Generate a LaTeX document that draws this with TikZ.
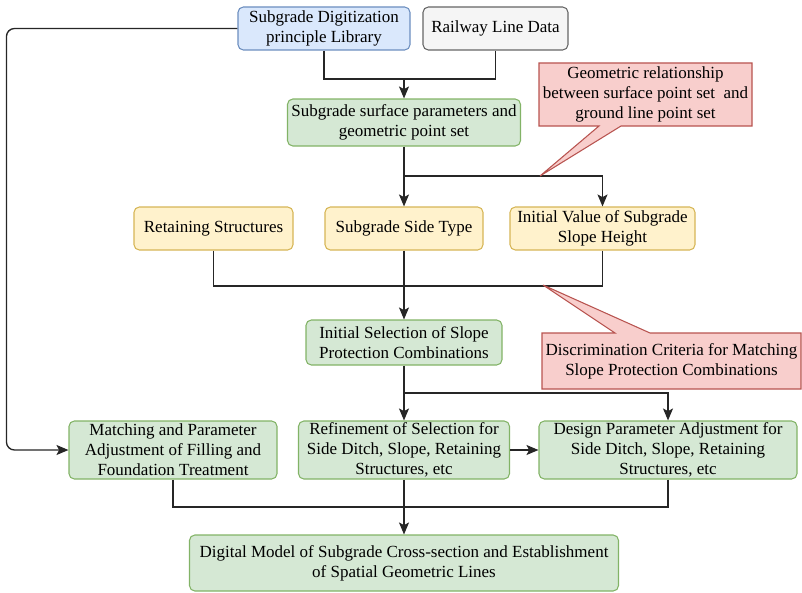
\documentclass[tikz,border=0pt]{standalone}
\usepackage{fontspec}
\setmainfont{Liberation Serif}
\usepackage{tikz}
\usetikzlibrary{arrows.meta}
\usepackage{xcolor}
\definecolor{bluefill}{HTML}{DAE8FC}
\definecolor{bluedraw}{HTML}{6C8EBF}
\definecolor{grayfill}{HTML}{F5F5F5}
\definecolor{graydraw}{HTML}{666666}
\definecolor{greenfill}{HTML}{D5E8D4}
\definecolor{greendraw}{HTML}{82B366}
\definecolor{yellowfill}{HTML}{FFF2CC}
\definecolor{yellowdraw}{HTML}{D6B656}
\definecolor{redfill}{HTML}{F8CECC}
\definecolor{reddraw}{HTML}{B85450}
\newcommand{\boxfont}{\fontsize{12.75}{15}\selectfont}
\tikzset{
  box/.style={rectangle, rounded corners=4pt, line width=0.8pt, align=center,
    inner sep=0pt, font=\boxfont},
  bluebox/.style={box, draw=bluedraw, fill=bluefill},
  graybox/.style={box, draw=graydraw, fill=grayfill},
  greenbox/.style={box, draw=greendraw, fill=greenfill},
  yellowbox/.style={box, draw=yellowdraw, fill=yellowfill},
  calloutbox/.style={line width=0.8pt, draw=reddraw, fill=redfill},
  calltext/.style={align=center, inner sep=0pt, font=\boxfont},
  line/.style={line width=1pt, black!85},
  arrow/.style={line, -{Stealth[length=9pt,width=7.5pt,inset=2pt]}},
}

\begin{document}
\begin{tikzpicture}[x=0.75pt, y=-0.75pt]
    \useasboundingbox (0,0) rectangle (802,592);
    % Entradas
    \node[bluebox, minimum width=129pt, minimum height=32.25pt] (lib) at (324,28.5)
        {Subgrade Digitization\\principle Library};
    \node[graybox, minimum width=108.75pt, minimum height=32.25pt] (rail) at (495.5,28.5)
        {Railway Line Data};
    \node[greenbox, minimum width=174.75pt, minimum height=35.25pt] (surf) at (404,122.5)
        {Subgrade surface parameters and\\geometric point set};
    % Tipos
    \node[yellowbox, minimum width=119.25pt, minimum height=32.25pt] (ret) at (213.5,228.5)
        {Retaining Structures};
    \node[yellowbox, minimum width=118.5pt, minimum height=32.25pt] (side) at (404,228.5)
        {Subgrade Side Type};
    \node[yellowbox, minimum width=138.75pt, minimum height=32.25pt] (init) at (602.5,228.5)
        {Initial Value of Subgrade\\Slope Height};
    \node[greenbox, minimum width=147pt, minimum height=33.75pt] (sel) at (404,342.5)
        {Initial Selection of Slope\\Protection Combinations};
    % Ajustes
    \node[greenbox, minimum width=156pt, minimum height=43.5pt] (match) at (173,450)
        {Matching and Parameter\\Adjustment of Filling and\\Foundation Treatment};
    \node[greenbox, minimum width=158.25pt, minimum height=43.5pt] (refine) at (404,450)
        {Refinement of Selection for\\Side Ditch, Slope, Retaining\\Structures, etc};
    \node[greenbox, minimum width=193.5pt, minimum height=43.5pt] (design) at (668,450)
        {Design Parameter Adjustment for\\Side Ditch, Slope, Retaining\\Structures, etc};
    \node[greenbox, minimum width=321.75pt, minimum height=42pt] (model) at (404,563)
        {Digital Model of Subgrade Cross-section and Establishment\\of Spatial Geometric Lines};
    % Junções
    \coordinate (j1) at (404,79);
    \coordinate (j2) at (404,176);
    \coordinate (j3) at (404,286);
    \coordinate (j4) at (404,393);
    \coordinate (j5) at (404,507);
    \draw[line] (lib.south) |- (j1);
    \draw[line] (rail.south) |- (j1);
    \draw[arrow] (j1) -- (surf.north);
    \draw[line] (surf.south) -- (j2);
    \draw[arrow] (j2) -- (side.north);
    \draw[arrow] (j2) -| (init.north);
    \draw[line] (ret.south) |- (j3);
    \draw[line] (init.south) |- (j3);
    \draw[arrow] (side.south) -- (sel.north);
    \draw[line] (sel.south) -- (j4);
    \draw[arrow] (j4) -- (refine.north);
    \draw[arrow] (j4) -| (design.north);
    \draw[arrow] (refine.east) -- (design.west);
    \draw[arrow, rounded corners=6pt] (lib.west) -- ++(-231,0) |- (match.west);
    \draw[line] (match.south) |- (j5);
    \draw[line] (design.south) |- (j5);
    \draw[arrow] (refine.south) -- (model.north);
    % Balões
    \coordinate (tipA) at (540,176);
    \coordinate (tipB) at (543,285);
    \draw[calloutbox] (539,63) -- (752,63) -- (752,126) -- (621,126) -- (tipA)
        -- (599,126) -- (539,126) -- cycle;
    \node[calltext] (geo) at (645.5,94.5)
        {Geometric relationship\\between surface point set\ \ and\\ground line point set};
    \draw[calloutbox] (542,333) -- (615,333) -- (tipB) -- (650,333) -- (801,333)
        -- (801,389) -- (542,389) -- cycle;
    \node[calltext] (crit) at (671.5,361)
        {Discrimination Criteria for Matching\\Slope Protection Combinations};
\end{tikzpicture}
\end{document}
